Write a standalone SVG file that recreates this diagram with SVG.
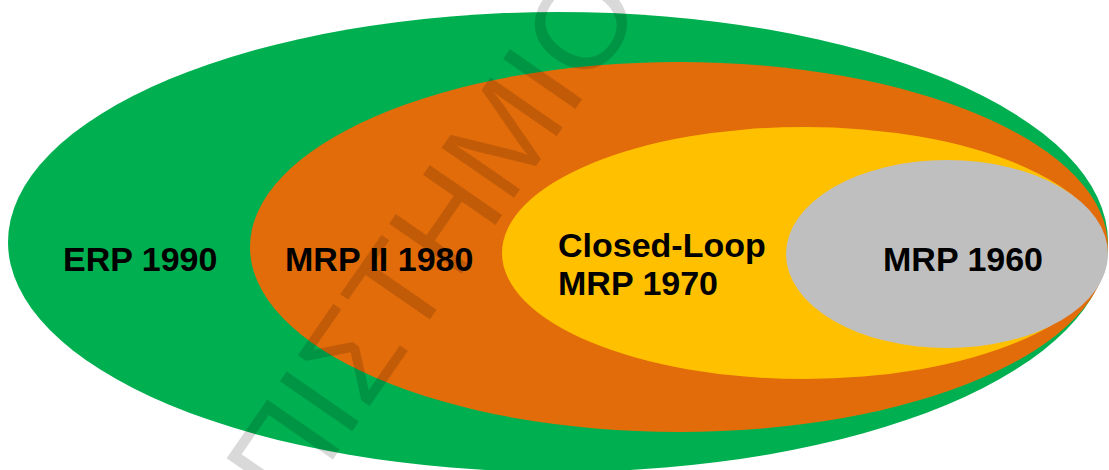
<svg xmlns="http://www.w3.org/2000/svg" width="1109" height="470" viewBox="0 0 1109 470">
  <style>
    .label { font-family: "Liberation Sans", Arial, sans-serif; font-weight: bold; font-size: 34px; fill: #000; }
    .mark { font-family: "Liberation Sans", Arial, sans-serif; font-size: 128px; fill: #000; fill-opacity: 0.15; }
  </style>
  <rect width="1109" height="470" fill="#ffffff"/>

  <!-- Outermost ring -->
  <g id="erp">
    <ellipse cx="558" cy="242" rx="550" ry="230" fill="#00b050"/>
    <text class="label" x="63" y="271">ERP 1990</text>
  </g>

  <g id="mrp2">
    <ellipse cx="679" cy="247" rx="429" ry="185" fill="#e36c0a"/>
    <text class="label" x="285" y="271">MRP II 1980</text>
  </g>

  <g id="closed-loop">
    <ellipse cx="804" cy="253" rx="302" ry="126" fill="#ffc000"/>
    <text class="label" x="558" y="257">Closed-Loop</text>
    <text class="label" x="558" y="295">MRP 1970</text>
  </g>

  <!-- Innermost core -->
  <g id="mrp">
    <ellipse cx="947" cy="254" rx="161" ry="94" fill="#bfbfbf"/>
    <text class="label" x="883" y="271">MRP 1960</text>
  </g>

  <!-- Diagonal watermark -->
  <g id="watermark">
    <text class="mark" transform="translate(293,517) rotate(-55.3)">ΠΙΣΤΗΜΙΟ</text>
  </g>
</svg>
